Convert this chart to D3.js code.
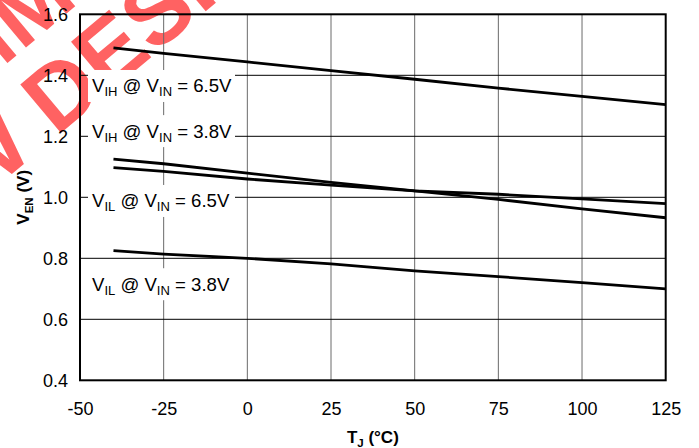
<!DOCTYPE html>
<html><head><meta charset="utf-8">
<script src="https://cdn.jsdelivr.net/npm/d3@7"></script>
<style>body{margin:0;background:#fff}svg{display:block}text{font-family:"Liberation Sans",Arial,sans-serif}</style>
</head><body>
<svg id="c" width="699" height="448"></svg>
<script>
const temps = [-40, -25, 0, 25, 50, 75, 100, 125];
const vihAt65 = [1.490, 1.472, 1.444, 1.415, 1.387, 1.358, 1.331, 1.304];
const vihAt38 = [1.125, 1.110, 1.079, 1.049, 1.021, 0.993, 0.962, 0.933];
const vilAt65 = [1.097, 1.085, 1.060, 1.040, 1.021, 1.010, 0.995, 0.979];
const vilAt38 = [0.825, 0.814, 0.800, 0.782, 0.759, 0.740, 0.720, 0.700];
const xTicks = [-50, -25, 0, 25, 50, 75, 100, 125];
const yTicks = [0.4, 0.6, 0.8, 1.0, 1.2, 1.4, 1.6];
const labels = [
  {a: "V", s1: "IH", b: " @ V", s2: "IN", c: " = 6.5V", y: 1.365},
  {a: "V", s1: "IH", b: " @ V", s2: "IN", c: " = 3.8V", y: 1.217},
  {a: "V", s1: "IL", b: " @ V", s2: "IN", c: " = 6.5V", y: 0.988},
  {a: "V", s1: "IL", b: " @ V", s2: "IN", c: " = 3.8V", y: 0.715}
];
const series = [vihAt65, vihAt38, vilAt65, vilAt38];

const svg = d3.select("#c");
const L = 80, R = 665.7, T = 14.3, B = 380.3;
const x = d3.scaleLinear().domain([-50, 125]).range([L, R]);
const y = d3.scaleLinear().domain([0.4, 1.6]).range([B, T]);

// watermark
const wm = svg.append("g").attr("fill", "rgb(255,98,98)").attr("font-weight", "bold").attr("font-size", 92);
const wmLow = wm.append("text").attr("text-anchor", "middle").attr("x", 0).attr("y", 0).text("FOR NEW DESIGN");
const wmUp = wm.append("text").attr("text-anchor", "middle").attr("x", 0).attr("y", -88).text("NOT RECOMMENDED");
const ext = wmLow.node().getExtentOfChar(9);
const ecx = ext.x + ext.width / 2, ecy = ext.y + ext.height / 2;
wm.attr("transform", `translate(110,50) rotate(-40) translate(${-ecx},${-ecy})`);

// gridlines
svg.append("g").selectAll("line").data(xTicks.slice(1, -1)).join("line")
  .attr("x1", d => x(d)).attr("x2", d => x(d)).attr("y1", T).attr("y2", B)
  .attr("stroke", "#6a6a6a").attr("stroke-width", 1);
svg.append("g").selectAll("line").data(yTicks.slice(1, -1)).join("line")
  .attr("x1", L).attr("x2", R).attr("y1", d => y(d)).attr("y2", d => y(d))
  .attr("stroke", "#000").attr("stroke-width", 1);

// labels with white boxes
const lg = svg.append("g");
labels.forEach(l => {
  const cy = y(l.y);
  lg.append("rect").attr("x", 88).attr("y", cy - 16).attr("width", 147).attr("height", 32).attr("fill", "#fff");
  const t = lg.append("text").attr("x", 92).attr("y", cy + 6.5).attr("font-size", 18.6).attr("fill", "#000");
  t.append("tspan").text(l.a);
  t.append("tspan").attr("font-size", 13).attr("dy", 4).text(l.s1);
  t.append("tspan").attr("dy", -4).text(l.b);
  t.append("tspan").attr("font-size", 13).attr("dy", 4).text(l.s2);
  t.append("tspan").attr("dy", -4).text(l.c);
});

// data lines
const line = d3.line().x((d, i) => x(temps[i])).y(d => y(d));
svg.append("g").selectAll("path").data(series).join("path")
  .attr("d", line).attr("fill", "none").attr("stroke", "#000").attr("stroke-width", 2.8);

// border
svg.append("rect").attr("x", L).attr("y", T).attr("width", R - L).attr("height", B - T)
  .attr("fill", "none").attr("stroke", "#000").attr("stroke-width", 2);

// axes (labels only)
const xa = svg.append("g").attr("transform", `translate(0,${B})`)
  .call(d3.axisBottom(x).tickValues(xTicks).tickSize(0).tickPadding(22).tickFormat(d => String(d)));
xa.select(".domain").remove();
xa.selectAll("text").attr("font-size", 18).attr("fill", "#000").attr("font-family", '"Liberation Sans",Arial,sans-serif');
const ya = svg.append("g").attr("transform", `translate(${L},0)`)
  .call(d3.axisLeft(y).tickValues(yTicks).tickSize(0).tickPadding(12).tickFormat(d => d.toFixed(1)));
ya.select(".domain").remove();
ya.selectAll("text").attr("font-size", 18).attr("fill", "#000").attr("font-family", '"Liberation Sans",Arial,sans-serif');

// axis titles
const xt = svg.append("text").attr("x", (L + R) / 2).attr("y", 443).attr("text-anchor", "middle")
  .attr("font-weight", "bold").attr("font-size", 17);
xt.append("tspan").text("T");
xt.append("tspan").attr("font-size", 11.5).attr("dy", 4).text("J");
xt.append("tspan").attr("dy", -4).text(" (°C)");
const yt = svg.append("text").attr("transform", `translate(29,${(T + B) / 2}) rotate(-90)`).attr("text-anchor", "middle")
  .attr("font-weight", "bold").attr("font-size", 17);
yt.append("tspan").text("V");
yt.append("tspan").attr("font-size", 11.5).attr("dy", 4).text("EN");
yt.append("tspan").attr("dy", -4).text(" (V)");
</script>
</body></html>
